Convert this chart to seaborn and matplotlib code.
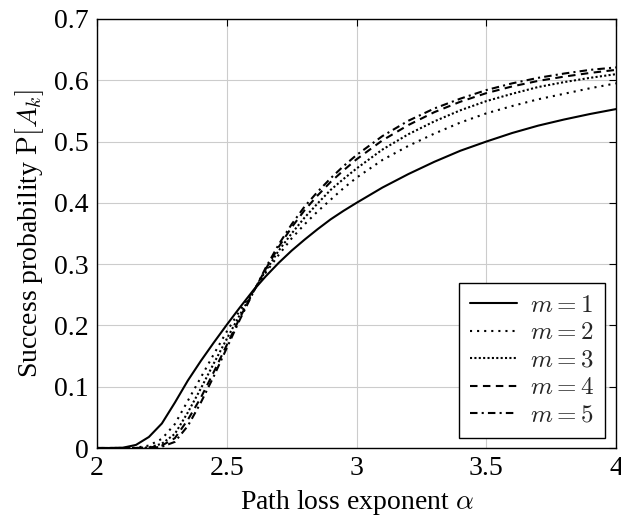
import matplotlib
matplotlib.use("Agg")
import matplotlib.pyplot as plt
import seaborn as sns

# path loss exponent values (x)
alpha = [2.0, 2.05, 2.1, 2.15, 2.2, 2.25, 2.3, 2.35, 2.4, 2.45, 2.5,
         2.55, 2.6, 2.65, 2.7, 2.75, 2.8, 2.85, 2.9, 2.95, 3.0,
         3.1, 3.2, 3.3, 3.4, 3.5, 3.6, 3.7, 3.8, 3.9, 4.0]

# success probability
p_m1 = [0.0, 0.0, 0.0005, 0.005, 0.018, 0.040, 0.074, 0.110, 0.142, 0.172, 0.201,
        0.229, 0.256, 0.280, 0.302, 0.322, 0.340, 0.357, 0.373, 0.387, 0.400,
        0.425, 0.447, 0.467, 0.485, 0.500, 0.514, 0.526, 0.536, 0.545, 0.553]
p_m2 = [0.0, 0.0, 0.0, 0.0005, 0.004, 0.015, 0.039, 0.077, 0.115, 0.153, 0.190,
        0.224, 0.255, 0.286, 0.315, 0.342, 0.365, 0.386, 0.405, 0.424, 0.441,
        0.470, 0.493, 0.513, 0.531, 0.546, 0.558, 0.569, 0.578, 0.587, 0.595]
p_m3 = [0.0, 0.0, 0.0, 0.0, 0.001, 0.007, 0.023, 0.058, 0.097, 0.138, 0.178,
        0.217, 0.254, 0.289, 0.322, 0.350, 0.376, 0.399, 0.421, 0.439, 0.456,
        0.487, 0.512, 0.533, 0.551, 0.566, 0.578, 0.589, 0.597, 0.604, 0.610]
p_m4 = [0.0, 0.0, 0.0, 0.0, 0.0005, 0.004, 0.016, 0.046, 0.082, 0.124, 0.168,
        0.212, 0.253, 0.292, 0.328, 0.360, 0.388, 0.412, 0.434, 0.453, 0.471,
        0.502, 0.527, 0.548, 0.565, 0.579, 0.590, 0.599, 0.606, 0.612, 0.617]
p_m5 = [0.0, 0.0, 0.0, 0.0, 0.0, 0.002, 0.010, 0.036, 0.074, 0.117, 0.163,
        0.209, 0.252, 0.294, 0.332, 0.365, 0.394, 0.418, 0.440, 0.460, 0.478,
        0.509, 0.534, 0.554, 0.570, 0.584, 0.595, 0.604, 0.611, 0.617, 0.621]

labels = ["$m = 1$", "$m = 2$", "$m = 3$", "$m = 4$", "$m = 5$"]
xticks = [2, 2.5, 3, 3.5, 4]
xtick_labels = ["2", "2.5", "3", "3.5", "4"]
yticks = [0, 0.1, 0.2, 0.3, 0.4, 0.5, 0.6, 0.7]
ytick_labels = ["0", "0.1", "0.2", "0.3", "0.4", "0.5", "0.6", "0.7"]

styles = ["-", (0, (1, 2.4)), (0, (1, 1.1)), (0, (3.6, 2.6)), (0, (3.6, 2, 1, 2))]

sns.set_theme(style="whitegrid")
plt.rcParams["font.family"] = ["Liberation Serif", "DejaVu Serif"]
plt.rcParams["mathtext.fontset"] = "cm"

fig = plt.figure(figsize=(6.21, 5.16), dpi=100)
ax = fig.add_axes([97 / 621, 68 / 516, 519 / 621, 429 / 516])

for vals, lab, ls in zip([p_m1, p_m2, p_m3, p_m4, p_m5], labels, styles):
    sns.lineplot(x=alpha, y=vals, ax=ax, color="black", linewidth=1.5,
                 linestyle=ls, label=lab, dash_capstyle="butt")

ax.set_xlim(2, 4)
ax.set_ylim(0, 0.7)
ax.set_xticks(xticks)
ax.set_xticklabels(xtick_labels)
ax.set_yticks(yticks)
ax.set_yticklabels(ytick_labels)
ax.tick_params(direction="in", top=True, right=True, length=5, width=0.8,
               color="black", labelsize=20, pad=6, labelcolor="black")
ax.grid(True, color="#cccccc", linewidth=0.8)
ax.set_axisbelow(True)
for sp in ax.spines.values():
    sp.set_color("black")
    sp.set_linewidth(1.0)

ax.set_xlabel(r"Path loss exponent $\alpha$", fontsize=20, color="black", labelpad=5)
ax.set_ylabel(r"Success probability $\mathrm{P}[A_k]$", fontsize=20, color="black", labelpad=6)

leg = ax.legend(loc="lower right", bbox_to_anchor=(0.979, 0.023), borderaxespad=0,
                frameon=True, fancybox=False, edgecolor="black", framealpha=1,
                fontsize=18, handlelength=1.9, handletextpad=0.5,
                labelspacing=0.2, borderpad=0.45)
leg.get_frame().set_linewidth(1.0)

fig.savefig("out.png", dpi=100)
